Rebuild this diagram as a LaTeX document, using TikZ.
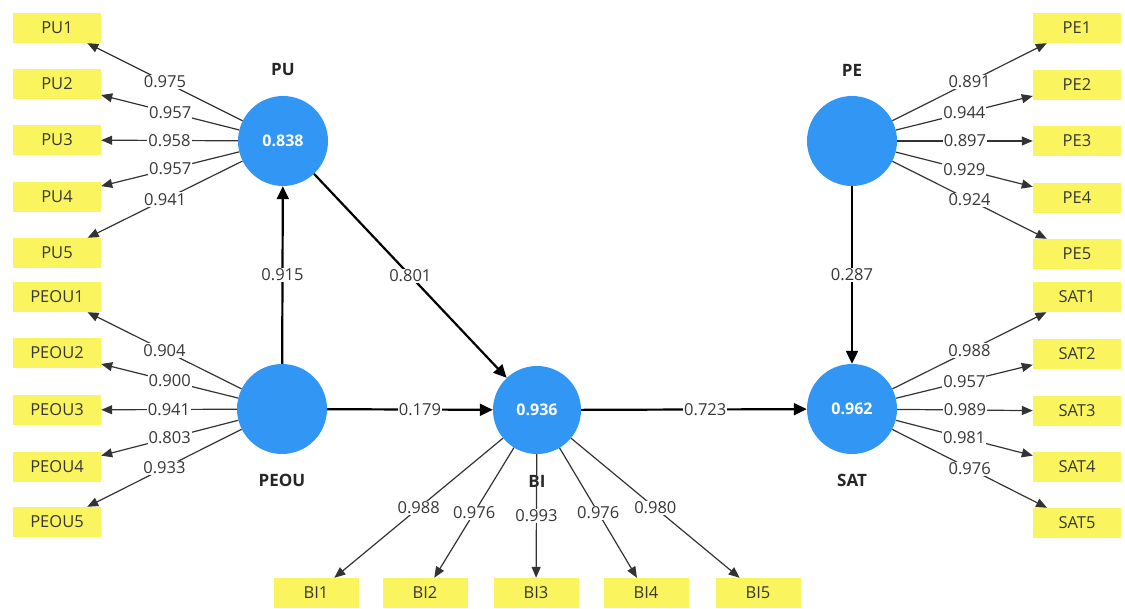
\documentclass[tikz,border=0pt]{standalone}
\usepackage{fontspec}
\setmainfont{Open Sans}
\usetikzlibrary{arrows.meta}
\definecolor{lvblue}{RGB}{50,150,245}
\definecolor{indyel}{RGB}{250,245,95}
\definecolor{txtgray}{RGB}{55,55,55}
\begin{document}
\begin{tikzpicture}[x=1pt,y=-1pt,
  lv/.style={circle,fill=lvblue,minimum size=90pt,inner sep=0pt,text=white,font=\fontsize{16}{18}\selectfont\bfseries},
  ind/.style={fill=indyel,minimum width=88pt,minimum height=30pt,inner sep=0pt,text=txtgray,font=\fontsize{16.5}{18}\selectfont},
  indb/.style={ind,minimum width=85pt},
  ld/.style={-{Triangle[length=11pt,width=9pt]},line width=1.2pt,draw=black!80},
  struct/.style={-{Triangle[length=13pt,width=12pt]},line width=2.2pt,draw=black},
  val/.style={fill=white,inner sep=1pt,text=txtgray,font=\fontsize{16.5}{18}\selectfont},
  lvname/.style={font=\fontsize{17}{19}\selectfont\bfseries,text=black!85}
]
\useasboundingbox (0,0) rectangle (1125,609);
% latent variables
\node[lv] (PU) at (283,141) {0.838};
\node[lv] (PEOU) at (282,409) {};
\node[lv,minimum size=88pt] (BI) at (537,410) {0.936};
\node[lv] (PE) at (852,141) {};
\node[lv] (SAT) at (852,409) {0.962};
\node[lvname] (nPU) at (283,70) {PU};
\node[lvname] (nPE) at (852,70) {PE};
\node[lvname] (nPEOU) at (282,480) {PEOU};
\node[lvname] (nSAT) at (852,480) {SAT};
\node[lvname] (nBI) at (537,481) {BI};
% indicators left
\node[ind] (PU1) at (57,28) {PU1};
\node[ind] (PU2) at (57,84) {PU2};
\node[ind] (PU3) at (57,140) {PU3};
\node[ind] (PU4) at (57,197) {PU4};
\node[ind] (PU5) at (57,253) {PU5};
\node[ind] (PEOU1) at (57,297) {PEOU1};
\node[ind] (PEOU2) at (57,353) {PEOU2};
\node[ind] (PEOU3) at (57,410) {PEOU3};
\node[ind] (PEOU4) at (57,467) {PEOU4};
\node[ind] (PEOU5) at (57,522) {PEOU5};
% indicators right
\node[ind] (PE1) at (1077,28) {PE1};
\node[ind] (PE2) at (1077,85) {PE2};
\node[ind] (PE3) at (1077,141) {PE3};
\node[ind] (PE4) at (1077,198) {PE4};
\node[ind] (PE5) at (1077,254) {PE5};
\node[ind] (SAT1) at (1077,297) {SAT1};
\node[ind] (SAT2) at (1077,354) {SAT2};
\node[ind] (SAT3) at (1077,411) {SAT3};
\node[ind] (SAT4) at (1077,467) {SAT4};
\node[ind] (SAT5) at (1077,523) {SAT5};
% indicators bottom
\node[indb] (BI1) at (316,593) {BI1};
\node[indb] (BI2) at (425,593) {BI2};
\node[indb] (BI3) at (536,593) {BI3};
\node[indb] (BI4) at (646,593) {BI4};
\node[indb] (BI5) at (758,593) {BI5};
% loadings
\draw[ld] (PU) -- node[val]{0.975} (PU1);
\draw[ld] (PU) -- node[val]{0.957} (PU2);
\draw[ld] (PU) -- node[val]{0.958} (PU3);
\draw[ld] (PU) -- node[val]{0.957} (PU4);
\draw[ld] (PU) -- node[val]{0.941} (PU5);
\draw[ld] (PEOU) -- node[val]{0.904} (PEOU1);
\draw[ld] (PEOU) -- node[val]{0.900} (PEOU2);
\draw[ld] (PEOU) -- node[val]{0.941} (PEOU3);
\draw[ld] (PEOU) -- node[val]{0.803} (PEOU4);
\draw[ld] (PEOU) -- node[val]{0.933} (PEOU5);
\draw[ld] (PE) -- node[val]{0.891} (PE1);
\draw[ld] (PE) -- node[val]{0.944} (PE2);
\draw[ld] (PE) -- node[val]{0.897} (PE3);
\draw[ld] (PE) -- node[val]{0.929} (PE4);
\draw[ld] (PE) -- node[val]{0.924} (PE5);
\draw[ld] (SAT) -- node[val]{0.988} (SAT1);
\draw[ld] (SAT) -- node[val]{0.957} (SAT2);
\draw[ld] (SAT) -- node[val]{0.989} (SAT3);
\draw[ld] (SAT) -- node[val]{0.981} (SAT4);
\draw[ld] (SAT) -- node[val]{0.976} (SAT5);
\draw[ld] (BI) -- node[val]{0.988} (BI1);
\draw[ld] (BI) -- node[val]{0.976} (BI2);
\draw[ld] (BI) -- node[val]{0.993} (BI3);
\draw[ld] (BI) -- node[val]{0.976} (BI4);
\draw[ld] (BI) -- node[val]{0.980} (BI5);
% structural paths
\draw[struct] (PEOU) -- node[val]{0.915} (PU);
\draw[struct] (PU) -- node[val]{0.801} (BI);
\draw[struct] (PEOU) -- node[val,pos=0.56]{0.179} (BI);
\draw[struct] (BI) -- node[val,pos=0.55]{0.723} (SAT);
\draw[struct] (PE) -- node[val]{0.287} (SAT);
\end{tikzpicture}
\end{document}
